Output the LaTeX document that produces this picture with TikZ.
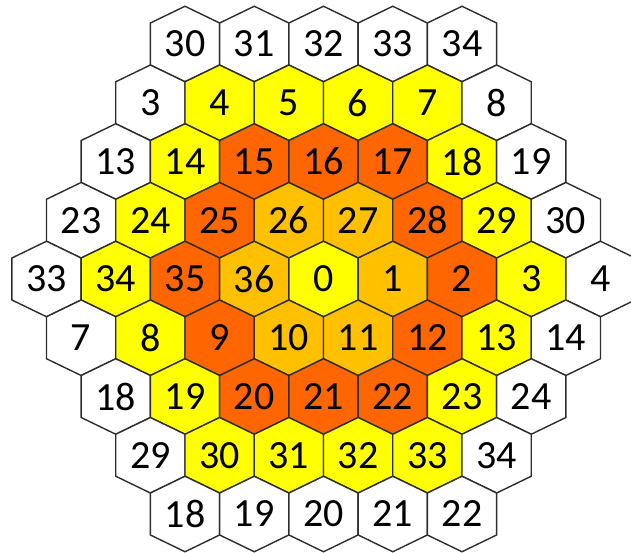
\documentclass[tikz,border=0pt]{standalone}
\usepackage{fontspec}
\setmainfont{Carlito}
\usepackage{xcolor}
\usetikzlibrary{positioning}

\definecolor{cW}{HTML}{FFFFFF}
\definecolor{cY}{HTML}{FFFF00}
\definecolor{cO}{HTML}{FFC000}
\definecolor{cD}{HTML}{FF6600}

\begin{document}
\begin{tikzpicture}[
    x=1pt, y=-1pt,
    hexcell/.style={draw=black!82, line width=1.4pt, line join=miter},
    hexnum/.style={font=\fontsize{40}{40}\selectfont, inner sep=0pt, text=black}
]
\useasboundingbox (0,0) rectangle (631,553);
\foreach \r/\cells in {
    0/{30/cW,31/cW,32/cW,33/cW,34/cW},
    1/{3/cW,4/cY,5/cY,6/cY,7/cY,8/cW},
    2/{13/cW,14/cY,15/cD,16/cD,17/cD,18/cY,19/cW},
    3/{23/cW,24/cY,25/cD,26/cO,27/cO,28/cD,29/cY,30/cW},
    4/{33/cW,34/cY,35/cD,36/cO,0/cY,1/cO,2/cD,3/cY,4/cW},
    5/{7/cW,8/cY,9/cD,10/cO,11/cO,12/cD,13/cY,14/cW},
    6/{18/cW,19/cY,20/cD,21/cD,22/cD,23/cY,24/cW},
    7/{29/cW,30/cY,31/cY,32/cY,33/cY,34/cW},
    8/{18/cW,19/cW,20/cW,21/cW,22/cW}}
  \foreach \n/\c [count=\i from 0] in \cells {
    \pgfmathsetmacro\xx{46.5+abs(\r-4)*34.625+\i*69.25}
    \pgfmathsetmacro\yy{44+58.75*\r}
    % one hexagon, pointy top
    \filldraw[hexcell, fill=\c] (\xx,\yy) ++(0,-37.75) -- ++(34.6,16.75) -- ++(0,42)
      -- ++(-34.6,16.75) -- ++(-34.6,-16.75) -- ++(0,-42) -- cycle;
    \node[hexnum] (h\r-\i) at (\xx,\yy) {\n};
  }
\end{tikzpicture}
\end{document}
